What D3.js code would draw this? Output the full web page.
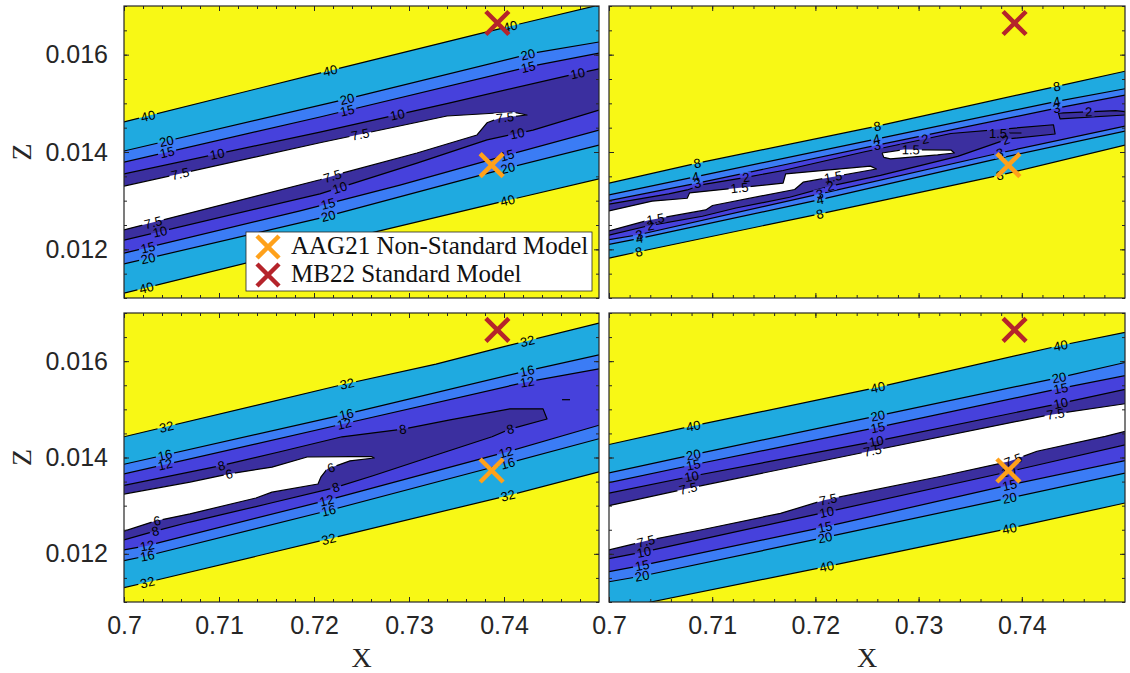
<!DOCTYPE html>
<html>
<head>
<meta charset="utf-8">
<title>Contour panels</title>
<script src="https://cdn.jsdelivr.net/npm/d3@7/dist/d3.min.js"></script>
<style>
  html, body { margin: 0; padding: 0; background: #ffffff; }
  svg { display: block; }
</style>
</head>
<body>
<svg id="chart" width="1130" height="673"></svg>
<script>
// ---------- axes ----------
const xDomain = [0.7, 0.75];
const zDomain = [0.011, 0.017];
const xTicks = [0.7, 0.71, 0.72, 0.73, 0.74];
const xTickLabels = ["0.7", "0.71", "0.72", "0.73", "0.74"];
const zTicks = [0.012, 0.014, 0.016];
const zTickLabels = ["0.012", "0.014", "0.016"];

// ---------- reference models ----------
const modelNames = ["AAG21 Non-Standard Model", "MB22 Standard Model"];
const modelX = [0.7387, 0.7393];
const modelZ = [0.01373, 0.01665];
const modelColors = ["#ffa11a", "#b5242b"];

// band colours: below lowest level ... above highest level
const bandColors = ["#ffffff", "#3b2f9f", "#4641dc", "#3b7cf5", "#1faae0", "#f8f815"];

// ---------- panel (a): levels 7.5 / 10 / 15 / 20 / 40 ----------
const tlLevels = [7.5, 10, 15, 20, 40];
const tl40u = [[0.7,0.01462],[0.7206,0.01562],[0.7382,0.01647],[0.75,0.01702]];
const tl20u = [[0.7,0.01402],[0.72305,0.01507],[0.74305,0.01603],[0.75,0.01626]];
const tl15u = [[0.7,0.01379],[0.72063,0.01472],[0.74305,0.01577],[0.75,0.01603]];
const tl10u = [[0.7,0.01355],[0.72063,0.01441],[0.73432,0.01501],[0.74695,0.01558],[0.75,0.01571]];
const tl75 = [[0.7,0.0133],[0.72063,0.01419],[0.734,0.01474],[0.74095,0.01482],[0.74242,0.01476],[0.73958,0.0147],[0.73821,0.0146],[0.73716,0.01435],[0.73084,0.01398],[0.72305,0.01357],[0.72063,0.01343],[0.7,0.0124]];
const tl10l = [[0.7,0.01219],[0.72063,0.01314],[0.73084,0.01377],[0.73821,0.01425],[0.74305,0.01445],[0.75,0.01486]];
const tl15l = [[0.7,0.01192],[0.71853,0.01279],[0.72905,0.01332],[0.74042,0.01394],[0.75,0.01445]];
const tl20l = [[0.7,0.0117],[0.72063,0.01264],[0.74032,0.01367],[0.75,0.01414]];
const tl40l = [[0.7,0.0111],[0.71853,0.01199],[0.73958,0.01297],[0.75,0.01345]];
const tlLabels = [["40",0.70253,0.01474],["20",0.70453,0.01418],["15",0.70453,0.014],["10",0.70979,0.01398],["7.5",0.70589,0.01357],
  ["7.5",0.70305,0.01256],["10",0.70379,0.01236],["15",0.70253,0.01203],["20",0.70253,0.01182],["40",0.70242,0.01116],
  ["40",0.72168,0.01569],["20",0.72347,0.01511],["15",0.72347,0.01488],["10",0.72874,0.0148],["7.5",0.72484,0.01439],
  ["7.5",0.72189,0.01353],["10",0.72253,0.01338],["15",0.72147,0.01295],["20",0.72147,0.01271],
  ["40",0.74063,0.01661],["20",0.74253,0.01599],["15",0.74253,0.01575],["10",0.74779,0.01558],["7.5",0.74011,0.0147],
  ["10",0.74147,0.01431],["15",0.74032,0.01394],["20",0.74042,0.01367],["40",0.74042,0.01297]];

// ---------- panel (b): levels 1.5 / 2 / 3 / 4 / 8 ----------
const trLevels = [1.5, 2, 3, 4, 8];
const tr8u = [[0.7,0.01336],[0.70856,0.01377],[0.72598,0.01453],[0.74339,0.01535],[0.75,0.01566]];
const tr4u = [[0.7,0.01312],[0.70856,0.0135],[0.72598,0.01427],[0.74339,0.01504],[0.75,0.0153]];
const tr3u = [[0.7,0.013],[0.70856,0.01336],[0.72598,0.01414],[0.74339,0.0149],[0.75,0.01517]];
const tr2a = [[0.7,0.01293],[0.70579,0.01314],[0.70758,0.01322],[0.70905,0.01333],[0.71328,0.01348],[0.71687,0.01362],[0.72467,0.014],[0.73313,0.01438],[0.74307,0.01456],[0.74323,0.01437],[0.73868,0.01427],[0.73379,0.01391],[0.72631,0.01352],[0.72142,0.0133],[0.71751,0.01307],[0.7123,0.01285],[0.70905,0.01268],[0.70352,0.01247],[0.7,0.01229]];
const tr2b = [[0.75,0.01483],[0.74909,0.01485],[0.74355,0.0148],[0.74371,0.01468],[0.75,0.01476]];
const tr15a = [[0.7,0.01279],[0.70417,0.01299],[0.70758,0.01305],[0.70781,0.01316],[0.71687,0.01336],[0.71712,0.01355],[0.72533,0.01371],[0.72591,0.01365],[0.71881,0.01338],[0.71799,0.01323],[0.71003,0.0129],[0.70937,0.01281],[0.70384,0.0126],[0.7,0.01238]];
const tr15b = [[0.72646,0.01398],[0.72858,0.01405],[0.73313,0.01404],[0.73346,0.01398],[0.73184,0.01394],[0.72728,0.01386],[0.72663,0.01389],[0.72646,0.01398]];
const tr15c = [[0.73672,0.01439],[0.73997,0.01439]];
const tr3l = [[0.7,0.0122],[0.70286,0.0123],[0.72044,0.01314],[0.73785,0.01398],[0.75,0.01453]];
const tr4l = [[0.7,0.0121],[0.70286,0.01222],[0.72044,0.01302],[0.73802,0.01388],[0.75,0.01443]];
const tr8l = [[0.7,0.01182],[0.70286,0.01195],[0.72044,0.01273],[0.73802,0.01353],[0.75,0.01414]];
const trLabels = [["8",0.70856,0.01376],["4",0.70839,0.0135],["3",0.70856,0.01336],["2",0.71328,0.01347],["1.5",0.71263,0.01331],
  ["8",0.72598,0.01454],["4",0.72591,0.01429],["3",0.72598,0.01414],["2",0.7307,0.01419],["1.5",0.72924,0.01401],
  ["8",0.74339,0.01535],["4",0.74339,0.01504],["3",0.74339,0.01489],["2",0.74648,0.01484],["1.5",0.7377,0.01438],["2",0.73851,0.01422],
  ["1.5",0.70449,0.01264],["2",0.704,0.01252],["3",0.70293,0.0123],["4",0.70293,0.01222],["8",0.70293,0.01192],
  ["1.5",0.72174,0.01347],["2",0.72142,0.01333],["3",0.72044,0.01312],["4",0.72044,0.01302],["8",0.72044,0.01273],
  ["3",0.73786,0.01398],["8",0.73786,0.01352]];

// ---------- panel (c): levels 6 / 8 / 12 / 16 / 32 ----------
const blLevels = [6, 8, 12, 16, 32];
const bl32u = [[0.7,0.01443],[0.72295,0.01551],[0.73284,0.01594],[0.73979,0.01629],[0.75,0.01679]];
const bl16u = [[0.7,0.01386],[0.72337,0.0149],[0.74242,0.0158],[0.75,0.01613]];
const bl12u = [[0.7,0.01366],[0.72316,0.0147],[0.74242,0.01557],[0.75,0.01584]];
const bl8 = [[0.7,0.01342],[0.71021,0.01383],[0.71642,0.01412],[0.72295,0.01443],[0.72937,0.01459],[0.73432,0.01478],[0.74063,0.01501],[0.74411,0.01501],[0.74453,0.0148],[0.74063,0.01459],[0.73874,0.01443],[0.73221,0.01401],[0.72621,0.01362],[0.72211,0.01337],[0.71558,0.01306],[0.70695,0.01266],[0.70326,0.01247],[0.7,0.01229]];
const bl8dash = [[0.74611,0.0152],[0.74695,0.0152]];
const bl6 = [[0.7,0.01324],[0.70695,0.01349],[0.71107,0.01366],[0.71558,0.0138],[0.71928,0.01401],[0.72379,0.01402],[0.72605,0.01402],[0.72634,0.01399],[0.72379,0.01393],[0.72137,0.01376],[0.72074,0.0136],[0.72042,0.01345],[0.71558,0.01328],[0.71389,0.01316],[0.70695,0.01283],[0.70326,0.01268],[0.7,0.01247]];
const bl12l = [[0.7,0.01208],[0.70246,0.01217],[0.72133,0.01311],[0.7402,0.01411],[0.75,0.01467]];
const bl16l = [[0.7,0.01186],[0.70246,0.01196],[0.72154,0.0129],[0.7402,0.01387],[0.75,0.01439]];
const bl32l = [[0.7,0.0113],[0.70246,0.01141],[0.72154,0.01231],[0.74042,0.01321],[0.75,0.0137]];
const blLabels = [["32",0.70452,0.0146],["16",0.70431,0.01405],["12",0.70431,0.01387],["8",0.71025,0.01383],["6",0.71107,0.01366],
  ["32",0.7235,0.01552],["16",0.72338,0.01492],["12",0.72318,0.0147],["8",0.72933,0.0146],["6",0.72174,0.01383],
  ["8",0.72215,0.01347],["12",0.72133,0.01311],["16",0.72154,0.0129],["32",0.72154,0.01231],
  ["6",0.70348,0.01269],["8",0.70328,0.01248],["12",0.70246,0.01215],["16",0.70246,0.01196],["32",0.70246,0.01141],
  ["32",0.74245,0.01643],["16",0.74245,0.01579],["12",0.74245,0.01557],["8",0.74062,0.01461],
  ["12",0.7402,0.01411],["16",0.74042,0.01387],["32",0.74042,0.01321]];

// ---------- panel (d): levels 7.5 / 10 / 15 / 20 / 40 ----------
const brLevels = [7.5, 10, 15, 20, 40];
const br40u = [[0.7,0.01427],[0.70802,0.01465],[0.7259,0.01545],[0.74362,0.01632],[0.75074,0.01663]];
const br20u = [[0.7,0.01368],[0.70818,0.01406],[0.7259,0.01486],[0.74362,0.01566],[0.75077,0.01601]];
const br15u = [[0.7,0.01348],[0.70818,0.01385],[0.7259,0.01462],[0.74362,0.01543],[0.75077,0.01573]];
const br10u = [[0.7,0.01326],[0.70802,0.01361],[0.7259,0.01434],[0.74362,0.01512],[0.75077,0.01545]];
const br75u = [[0.7,0.013],[0.70769,0.01336],[0.72524,0.01413],[0.74279,0.01489],[0.75077,0.01514]];
const br75l = [[0.7,0.01208],[0.70404,0.01229],[0.70899,0.0125],[0.71662,0.01284],[0.72093,0.01312],[0.73219,0.01361],[0.73882,0.01392],[0.74147,0.01413],[0.74809,0.01444],[0.75074,0.01458]];
const br10l = [[0.7,0.0119],[0.70338,0.01204],[0.72093,0.01286],[0.73882,0.01371],[0.75074,0.0143]];
const br15l = [[0.7,0.01163],[0.70321,0.01176],[0.72093,0.01256],[0.73882,0.01343],[0.75074,0.01397]];
const br20l = [[0.7,0.01142],[0.70321,0.01154],[0.72093,0.01234],[0.73882,0.01316],[0.75074,0.01371]];
const br40l = [[0.7,0.01076],[0.70404,0.011],[0.72093,0.01173],[0.73882,0.01253],[0.75074,0.01309]];
const brLabels = [["40",0.70818,0.01465],["20",0.70818,0.01406],["15",0.70818,0.01384],["10",0.70802,0.01359],["7.5",0.70769,0.01334],
  ["40",0.72606,0.01545],["20",0.72606,0.01485],["15",0.72606,0.01462],["10",0.7259,0.01434],["7.5",0.72557,0.0141],
  ["40",0.74378,0.0163],["20",0.74362,0.01566],["15",0.74378,0.01543],["10",0.74378,0.01512],["7.5",0.74329,0.01486],
  ["7.5",0.70354,0.01229],["10",0.70338,0.01204],["15",0.70321,0.01176],["20",0.70321,0.01154],
  ["7.5",0.72127,0.01309],["10",0.7211,0.01286],["15",0.72093,0.01256],["20",0.72093,0.01234],["40",0.7211,0.01173],
  ["7.5",0.73915,0.01395],["10",0.73866,0.01375],["15",0.73882,0.01343],["20",0.73882,0.01316],["40",0.73882,0.01251]];

// ---------- layout ----------
const W = 1130, H = 673;
const INK = "#262626";
const panels = [
  { x0: 124, x1: 599, y0: 6,   y1: 298, levels: tlLevels,
    fills: [[40, tl40u, tl40l], [20, tl20u, tl20l], [15, tl15u, tl15l], [10, tl10u, tl10l], [7.5, tl75]],
    extra: [], labels: tlLabels, showX: false, showZ: true },
  { x0: 609, x1: 1125, y0: 6,  y1: 298, levels: trLevels,
    fills: [[8, tr8u, tr8l], [4, tr4u, tr4l], [3, tr3u, tr3l], [2, tr2a], [2, tr2b], [1.5, tr15a], [1.5, tr15b]],
    extra: [[1.5, tr15c]], labels: trLabels, showX: false, showZ: false },
  { x0: 124, x1: 599, y0: 313, y1: 602, levels: blLevels,
    fills: [[32, bl32u, bl32l], [16, bl16u, bl16l], [12, bl12u, bl12l], [8, bl8], [6, bl6]],
    extra: [[8, bl8dash]], labels: blLabels, showX: true, showZ: true },
  { x0: 609, x1: 1125, y0: 313, y1: 602, levels: brLevels,
    fills: [[40, br40u, br40l], [20, br20u, br20l], [15, br15u, br15l], [10, br10u, br10l], [7.5, br75u, br75l]],
    extra: [], labels: brLabels, showX: true, showZ: false }
];

const svg = d3.select("#chart");
const defs = svg.append("defs");

const minorX = d3.range(25).map(i => 0.7 + i * 0.002);
const minorZ = d3.range(13).map(i => 0.011 + i * 0.0005);

function styleAxis(sel) {
  sel.select(".domain").remove();
  sel.selectAll(".tick line").attr("stroke", INK).attr("stroke-width", 1);
  sel.selectAll(".tick text")
    .attr("fill", INK)
    .style("font-family", "'Liberation Sans', Arial, Helvetica, sans-serif")
    .style("font-size", "25px");
}

function crossPath(size) {
  return `M${-size},${-size}L${size},${size}M${-size},${size}L${size},${-size}`;
}

panels.forEach((p, idx) => {
  const xs = d3.scaleLinear().domain(xDomain).range([p.x0, p.x1]);
  const ys = d3.scaleLinear().domain(zDomain).range([p.y1, p.y0]);
  const lineGen = d3.line().x(d => xs(d[0])).y(d => ys(d[1]));

  const clipId = "clip" + idx, maskId = "mask" + idx;
  defs.append("clipPath").attr("id", clipId).append("rect")
    .attr("x", p.x0).attr("y", p.y0).attr("width", p.x1 - p.x0).attr("height", p.y1 - p.y0);

  const g = svg.append("g").attr("clip-path", `url(#${clipId})`);

  // filled bands, outermost level first
  g.append("rect").attr("x", p.x0).attr("y", p.y0)
    .attr("width", p.x1 - p.x0).attr("height", p.y1 - p.y0)
    .attr("fill", bandColors[5]);
  p.fills.slice().sort((a, b) => b[0] - a[0]).forEach(f => {
    const ring = f.length === 3 ? f[1].concat(f[2].slice().reverse()) : f[1];
    g.append("path").attr("d", lineGen(ring) + "Z")
      .attr("fill", bandColors[p.levels.indexOf(f[0])]);
  });

  // contour lines
  const lines = [];
  p.fills.forEach(f => {
    lines.push([f[0], f[1]]);
    if (f.length === 3) lines.push([f[0], f[2]]);
  });
  p.extra.forEach(e => lines.push(e));

  const mask = defs.append("mask").attr("id", maskId)
    .attr("maskUnits", "userSpaceOnUse")
    .attr("x", 0).attr("y", 0).attr("width", W).attr("height", H);
  mask.append("rect").attr("width", W).attr("height", H).attr("fill", "#fff");

  const lg = g.append("g").attr("mask", `url(#${maskId})`);
  lines.forEach(l => {
    lg.append("path").attr("d", lineGen(l[1]))
      .attr("fill", "none").attr("stroke", "#000")
      .attr("stroke-width", 1.2).attr("stroke-linejoin", "round");
  });

  // inline contour labels, aligned with their line
  const labelG = g.append("g");
  p.labels.forEach(lb => {
    const lev = +lb[0];
    const pt = [xs(lb[1]), ys(lb[2])];
    let best = null;
    lines.filter(l => l[0] === lev).forEach(l => {
      const pts = l[1].map(d => [xs(d[0]), ys(d[1])]);
      for (let i = 0; i < pts.length - 1; i++) {
        const a = pts[i], b = pts[i + 1];
        const dx = b[0] - a[0], dy = b[1] - a[1];
        const L2 = dx * dx + dy * dy;
        if (L2 === 0) continue;
        let t = ((pt[0] - a[0]) * dx + (pt[1] - a[1]) * dy) / L2;
        t = Math.max(0, Math.min(1, t));
        const q = [a[0] + t * dx, a[1] + t * dy];
        const d2 = (q[0] - pt[0]) ** 2 + (q[1] - pt[1]) ** 2;
        if (!best || d2 < best.d2) best = { d2, q, ang: Math.atan2(dy, dx) * 180 / Math.PI };
      }
    });
    if (!best) return;
    let ang = best.ang;
    if (ang > 90) ang -= 180;
    if (ang < -90) ang += 180;
    const tr = `translate(${best.q[0].toFixed(2)},${best.q[1].toFixed(2)}) rotate(${ang.toFixed(2)})`;
    const t = labelG.append("text").attr("transform", tr)
      .attr("text-anchor", "middle").attr("dy", "0.36em")
      .attr("fill", "#000")
      .style("font-family", "'Liberation Sans', Arial, Helvetica, sans-serif")
      .style("font-size", "13px")
      .text(lb[0]);
    const w = t.node().getComputedTextLength();
    mask.append("rect").attr("transform", tr)
      .attr("x", -w / 2 - 2).attr("y", -5).attr("width", w + 4).attr("height", 10)
      .attr("fill", "#000");
  });

  // model markers
  modelX.forEach((mx, i) => {
    g.append("path").attr("transform", `translate(${xs(mx)},${ys(modelZ[i])})`)
      .attr("d", crossPath(11.5)).attr("fill", "none")
      .attr("stroke", modelColors[i]).attr("stroke-width", 4.5);
  });

  // axes: ticks inside on all four sides
  const ax = svg.append("g");
  ax.append("g").attr("transform", `translate(0,${p.y1})`)
    .call(d3.axisBottom(xs).tickValues(minorX).tickSize(-3).tickFormat("")).call(styleAxis);
  ax.append("g").attr("transform", `translate(0,${p.y1})`)
    .call(d3.axisBottom(xs).tickValues(xTicks).tickSize(-5).tickPadding(14)
      .tickFormat((d, i) => p.showX ? xTickLabels[i] : "")).call(styleAxis);
  ax.append("g").attr("transform", `translate(0,${p.y0})`)
    .call(d3.axisTop(xs).tickValues(minorX).tickSize(-3).tickFormat("")).call(styleAxis);
  ax.append("g").attr("transform", `translate(0,${p.y0})`)
    .call(d3.axisTop(xs).tickValues(xTicks).tickSize(-5).tickFormat("")).call(styleAxis);
  ax.append("g").attr("transform", `translate(${p.x0},0)`)
    .call(d3.axisLeft(ys).tickValues(minorZ).tickSize(-3).tickFormat("")).call(styleAxis);
  ax.append("g").attr("transform", `translate(${p.x0},0)`)
    .call(d3.axisLeft(ys).tickValues(zTicks).tickSize(-5).tickPadding(16)
      .tickFormat((d, i) => p.showZ ? zTickLabels[i] : "")).call(styleAxis);
  ax.append("g").attr("transform", `translate(${p.x1},0)`)
    .call(d3.axisRight(ys).tickValues(minorZ).tickSize(-3).tickFormat("")).call(styleAxis);
  ax.append("g").attr("transform", `translate(${p.x1},0)`)
    .call(d3.axisRight(ys).tickValues(zTicks).tickSize(-5).tickFormat("")).call(styleAxis);

  ax.append("rect").attr("x", p.x0).attr("y", p.y0)
    .attr("width", p.x1 - p.x0).attr("height", p.y1 - p.y0)
    .attr("fill", "none").attr("stroke", INK).attr("stroke-width", 1.2);

  if (p.showX) {
    svg.append("text").attr("x", (p.x0 + p.x1) / 2).attr("y", 667)
      .attr("text-anchor", "middle").attr("fill", INK)
      .style("font-family", "'Liberation Serif', 'Times New Roman', serif")
      .style("font-size", "28px").text("X");
  }
  if (p.showZ) {
    const cy = (p.y0 + p.y1) / 2;
    svg.append("text").attr("transform", `translate(31,${cy}) rotate(-90)`)
      .attr("text-anchor", "middle").attr("fill", INK)
      .style("font-family", "'Liberation Serif', 'Times New Roman', serif")
      .style("font-size", "28px").text("Z");
  }
});

// legend in the first panel
const legend = svg.append("g");
legend.append("rect").attr("x", 246).attr("y", 232).attr("width", 346).attr("height", 59)
  .attr("fill", "#ffffff").attr("stroke", INK).attr("stroke-width", 0.8);
modelNames.forEach((name, i) => {
  const cy = 247 + i * 28;
  legend.append("path").attr("transform", `translate(268,${cy})`)
    .attr("d", crossPath(11)).attr("fill", "none")
    .attr("stroke", modelColors[i]).attr("stroke-width", 4.5);
  legend.append("text").attr("x", 291).attr("y", cy + 7)
    .attr("fill", "#111")
    .style("font-family", "'Liberation Serif', 'Times New Roman', serif")
    .style("font-size", "25px").text(name);
});
</script>
</body>
</html>
